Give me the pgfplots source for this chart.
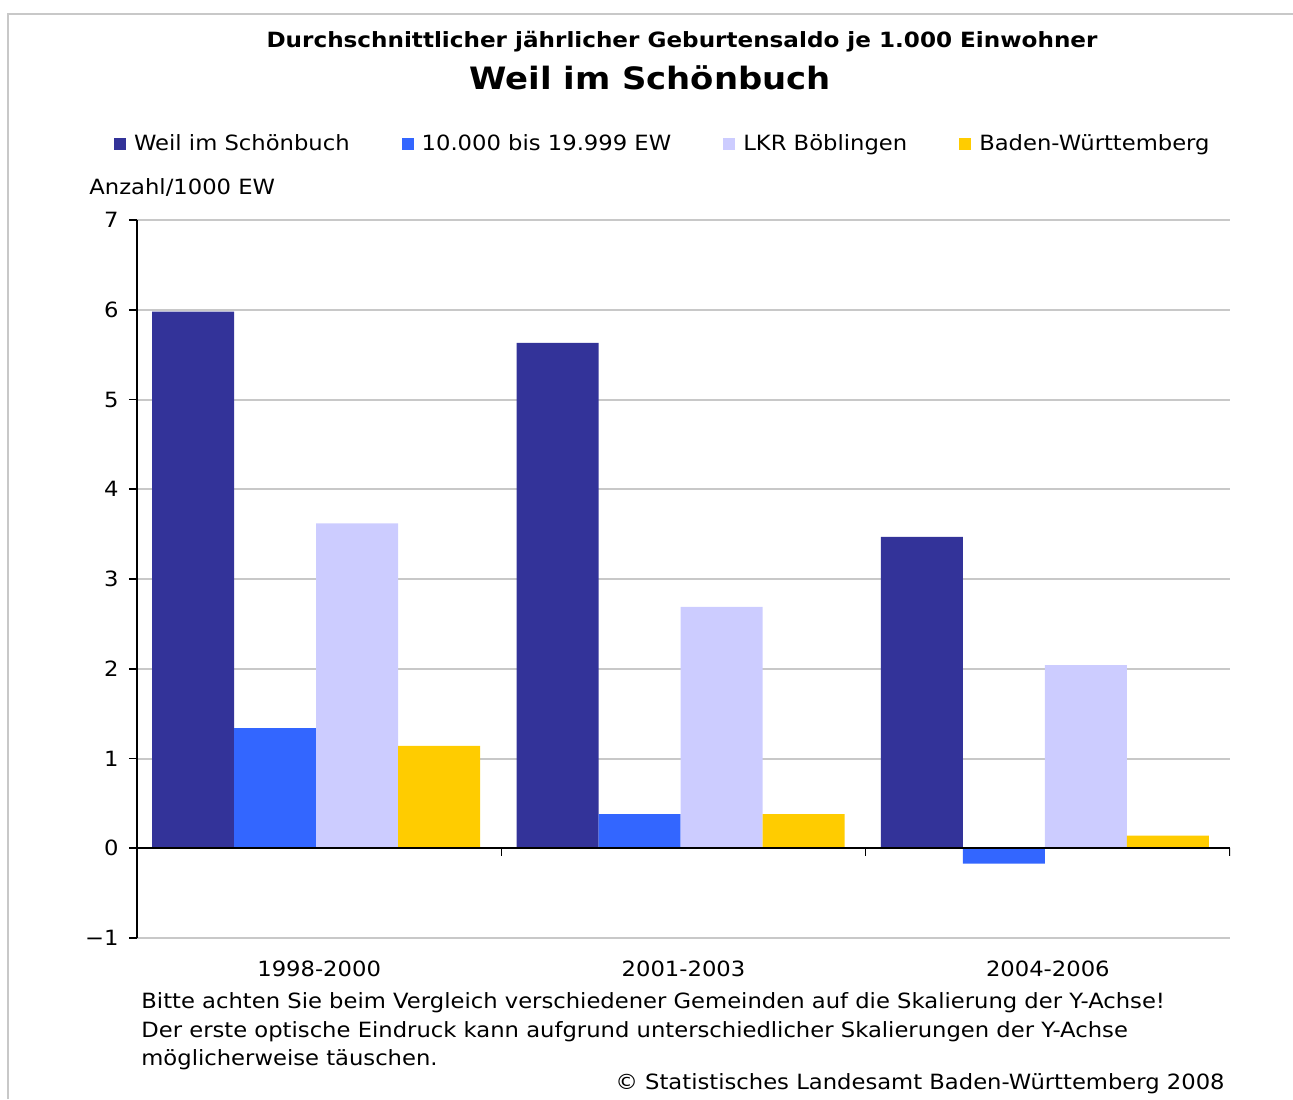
\documentclass[border=0pt]{standalone}
\usepackage{fontspec}
\setmainfont{DejaVu Sans}[FakeStretch=1.08, BoldFeatures={FakeStretch=1.10}]
\usepackage{pgfplots}
\pgfplotsset{compat=1.18}
\definecolor{cWeil}{HTML}{333399}
\definecolor{cMid}{HTML}{3366FF}
\definecolor{cLkr}{HTML}{CCCCFF}
\definecolor{cBw}{HTML}{FFCC00}
\definecolor{cGrid}{HTML}{C8C8C8}
\pgfplotsset{sq legend/.style={legend image code/.code={\fill[##1] (0pt,-3pt) rectangle (6pt,3pt);}}}
\begin{document}
\fontsize{10.5}{12.6}\selectfont
\begin{tikzpicture}
\begin{scope}[x=0.5pt,y=-0.5pt]
\path[use as bounding box] (0,0) rectangle (1293,1099);
\draw[cGrid, line width=1pt] (8,1099) -- (8,14) -- (1293,14);
\node[font=\bfseries\fontsize{10.5}{12}\selectfont] at (682,42) {Durchschnittlicher jährlicher Geburtensaldo je 1.000 Einwohner};
\node[font=\bfseries\fontsize{15.4}{18}\selectfont] at (650,78) {Weil im Schönbuch};
\node[anchor=west, inner sep=0] at (89,187) {Anzahl/1000 EW};
\node[anchor=west, inner sep=0] at (141,1003) {Bitte achten Sie beim Vergleich verschiedener Gemeinden auf die Skalierung der Y-Achse!};
\node[anchor=west, inner sep=0] at (141,1032) {Der erste optische Eindruck kann aufgrund unterschiedlicher Skalierungen der Y-Achse};
\node[anchor=west, inner sep=0] at (141,1060) {möglicherweise täuschen.};
\node[anchor=east, inner sep=0] at (1225,1084) {© Statistisches Landesamt Baden-Württemberg 2008};
\end{scope}
\begin{axis}[
  at={(68.5pt,-469pt)}, anchor=south west,
  scale only axis, width=546.5pt, height=359pt,
  xmin=0, xmax=3, ymin=-1, ymax=7,
  ybar=0pt, bar width=41pt,
  axis y line*=left, axis x line*=bottom,
  x axis line style={draw=none},
  y axis line style={black, line width=1pt, -},
  xtick={0.5,1.5,2.5},
  xticklabels={1998-2000,2001-2003,2004-2006},
  xtick style={draw=none},
  ytick={-1,0,1,2,3,4,5,6,7},
  yticklabels={−1,0,1,2,3,4,5,6,7},
  ytick style={black, line width=0.8pt},
  tick align=outside, major tick length=4pt,
  ymajorgrids, major grid style={cGrid, line width=1pt},
  tick label style={font=\fontsize{10.5}{12}\selectfont},
  xticklabel style={yshift=-3.5pt},
  yticklabel style={xshift=-1.5pt},
  legend columns=4,
  legend style={draw=none, fill=none, at={(0.482,1.106)}, anchor=center,
    font=\fontsize{10.5}{12}\selectfont,
    /tikz/every odd column/.append style={column sep=2pt},
    /tikz/every even column/.append style={column sep=24pt}},
]
\addplot[fill=cWeil, draw=none, sq legend, xshift=-1.5pt] coordinates {(0.5,5.98) (1.5,5.63) (2.5,3.47)};
\addlegendentry{Weil im Schönbuch}
\addplot[fill=cMid, draw=none, sq legend, xshift=-1.5pt] coordinates {(0.5,1.34) (1.5,0.38) (2.5,-0.17)};
\addlegendentry{10.000 bis 19.999 EW}
\addplot[fill=cLkr, draw=none, sq legend, xshift=-1.5pt] coordinates {(0.5,3.62) (1.5,2.69) (2.5,2.04)};
\addlegendentry{LKR Böblingen}
\addplot[fill=cBw, draw=none, sq legend, xshift=-1.5pt] coordinates {(0.5,1.14) (1.5,0.38) (2.5,0.14)};
\addlegendentry{Baden-Württemberg}
\draw[black, line width=1pt] (axis cs:0,0) -- (axis cs:3,0);
\draw[black, line width=0.8pt] (axis cs:1,0) -- ([yshift=-4pt]axis cs:1,0);
\draw[black, line width=0.8pt] (axis cs:2,0) -- ([yshift=-4pt]axis cs:2,0);
\draw[black, line width=0.8pt] (axis cs:3,0) -- ([yshift=-4pt]axis cs:3,0);
\end{axis}
\end{tikzpicture}
\end{document}
